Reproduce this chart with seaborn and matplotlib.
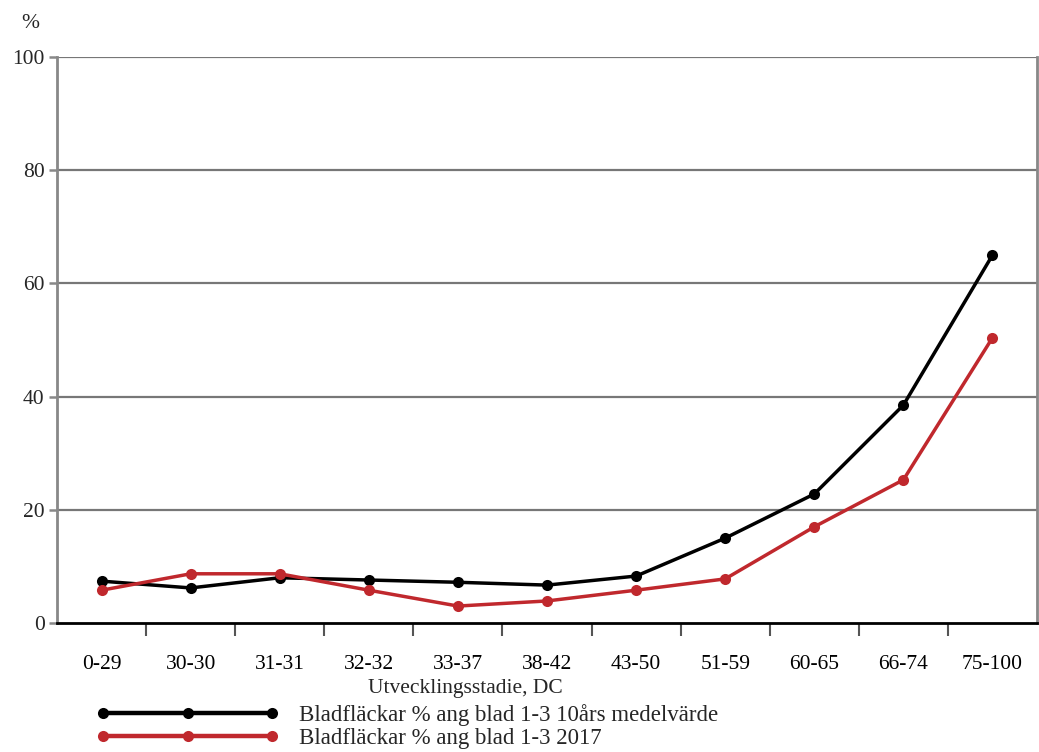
import matplotlib
matplotlib.use("Agg")
import matplotlib.pyplot as plt
import seaborn as sns
import pandas as pd
import numpy as np
from matplotlib.lines import Line2D

categories = ["0-29", "30-30", "31-31", "32-32", "33-37", "38-42", "43-50",
              "51-59", "60-65", "66-74", "75-100"]
mean10 = [7.4, 6.2, 8.0, 7.6, 7.2, 6.7, 8.3, 15.0, 22.8, 38.5, 65.0]
y2017 = [5.8, 8.7, 8.7, 5.8, 3.0, 3.9, 5.8, 7.8, 17.0, 25.3, 50.4]
label_mean = "Bladfläckar % ang blad 1-3 10års medelvärde"
label_2017 = "Bladfläckar % ang blad 1-3 2017"
yticks = [0, 20, 40, 60, 80, 100]

sns.set_theme(style="white")
plt.rcParams['font.family'] = ['Liberation Serif', 'DejaVu Serif']
FS = 15.5

fig = plt.figure(figsize=(10.39, 7.52), dpi=100)
ax = fig.add_axes([0.0549, 0.1715, 0.9432, 0.7527])

df = pd.DataFrame({
    "stage": categories * 2,
    "value": mean10 + y2017,
    "series": [label_mean] * len(categories) + [label_2017] * len(categories),
})
pos = {c: i for i, c in enumerate(categories)}
df["x"] = df["stage"].map(pos)

sns.lineplot(data=df, x="x", y="value", hue="series",
             palette={label_mean: "black", label_2017: "#C0282D"},
             hue_order=[label_mean, label_2017],
             marker="o", markersize=8, markeredgewidth=0, linewidth=2.5,
             sort=False, ax=ax, legend=False, zorder=3)

ax.set_xlim(-0.5, len(categories) - 0.5)
ax.set_ylim(0, 100)
ax.set_yticks(yticks)
ax.set_yticklabels([str(t) for t in yticks], fontsize=FS)
ax.set_xticks(range(len(categories)))
ax.set_xticklabels(categories, fontsize=FS)
ax.set_xticks(np.arange(0.5, len(categories) - 0.5, 1), minor=True)
ax.tick_params(axis="x", which="both", bottom=True)
ax.tick_params(axis="y", which="both", left=True)
ax.tick_params(axis="x", which="major", length=0, pad=23, colors="black")
ax.tick_params(axis="x", which="minor", length=9, width=1.5, color="#555555", direction="out")
ax.tick_params(axis="y", which="major", length=6, width=1.8, color="#888888", direction="out", pad=3)
ax.set_xlabel("")
ax.set_ylabel("")
for t in yticks[1:]:
    ax.axhline(t, color="#777777", linewidth=1.6, zorder=0)

ax.spines["top"].set_visible(False)
ax.spines["left"].set_color("#888888")
ax.spines["left"].set_linewidth(2)
ax.spines["right"].set_color("#888888")
ax.spines["right"].set_linewidth(2)
ax.spines["bottom"].set_color("black")
ax.spines["bottom"].set_linewidth(2)

fig.text(30 / 1039, 1 - 23 / 752, "%", fontsize=FS, ha="center", va="center")
fig.text(465 / 1039, 1 - 689 / 752, "Utvecklingsstadie, DC", fontsize=FS, ha="center", va="center")

handles = [
    Line2D([0], [0], color="black", lw=3.2, marker="o", markersize=8, markeredgewidth=0),
    Line2D([0], [0], color="#C0282D", lw=3.2, marker="o", markersize=8, markeredgewidth=0),
]
fig.legend(handles, [label_mean, label_2017], loc="upper left",
           bbox_to_anchor=(96 / 1039, 1 - 704 / 752), frameon=False,
           numpoints=3, handlelength=8.0, handletextpad=0.85,
           labelspacing=0.08, prop={"size": 16.5}, borderpad=0, borderaxespad=0)

fig.savefig("out.png", dpi=100)
